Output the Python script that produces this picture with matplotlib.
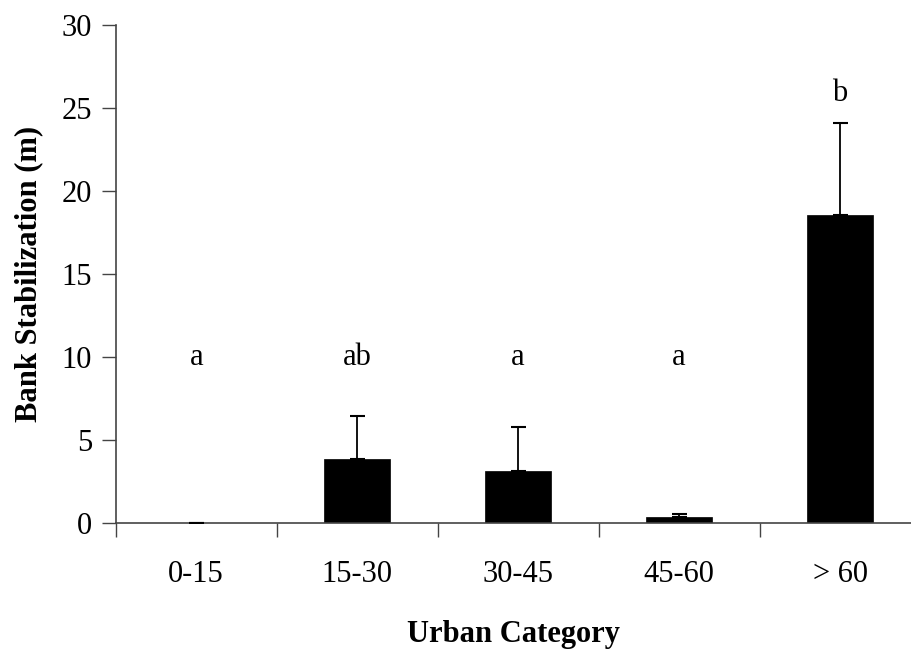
import matplotlib
matplotlib.use('Agg')
import numpy as np
import matplotlib.pyplot as plt
from matplotlib.ticker import FixedLocator, NullFormatter

#-----------------------------------------------------------------------------
## Data
#-----------------------------------------------------------------------------
categories = ['0-15', '15-30', '30-45', '45-60', '> 60']
means = [0.0, 3.86, 3.15, 0.34, 18.55]
err_up = [0.0, 2.60, 2.65, 0.20, 5.55]
letters = ['a', 'ab', 'a', 'a', 'b']
letter_y = [10, 10, 10, 10, 25.9]

#-----------------------------------------------------------------------------
## Figure settings
#-----------------------------------------------------------------------------
plt.rcParams['font.family'] = ['Liberation Serif', 'DejaVu Serif']
plt.rcParams['font.size'] = 22
axcol = '#444444'

fig = plt.figure(figsize=(9.11, 6.5), dpi=100)
ax = fig.add_axes([0.127, 0.1954, 0.873, 0.7661])

x = np.arange(len(categories))
ax.bar(x, means, width=0.41, color='black', edgecolor='black', linewidth=0.5, zorder=2)
ax.errorbar(x, means, yerr=[np.zeros(len(x)), err_up], fmt='none', ecolor='black',
            elinewidth=1.3, capsize=5.4, capthick=1.5, zorder=3)

for xi, t, ty in zip(x, letters, letter_y):
    ax.text(xi, ty, t, ha='center', va='center', fontsize=22)

ax.set_xlim(-0.5, 4.44)
ax.set_ylim(0, 30)
ax.set_yticks(np.arange(0, 31, 5))
ax.set_xticks(x)
ax.set_xticklabels(categories)
ax.xaxis.set_minor_locator(FixedLocator(np.arange(-0.5, 4.0, 1.0)))
ax.xaxis.set_minor_formatter(NullFormatter())
ax.tick_params(axis='x', which='major', length=0, pad=27)
ax.tick_params(axis='x', which='minor', length=10, width=1, color=axcol, direction='out')
ax.tick_params(axis='y', which='major', length=10, width=1, color=axcol, direction='out', pad=7)

for s in ['top', 'right']:
    ax.spines[s].set_visible(False)
for s in ['left', 'bottom']:
    ax.spines[s].set_color(axcol)
    ax.spines[s].set_linewidth(1.2)

ax.set_ylabel('Bank Stabilization (m)', fontweight='bold', fontsize=22, labelpad=13)
ax.set_xlabel('Urban Category', fontweight='bold', fontsize=22)
ax.xaxis.set_label_coords(0.5, -0.195)

plt.savefig('out.png', dpi=100, facecolor='w')
